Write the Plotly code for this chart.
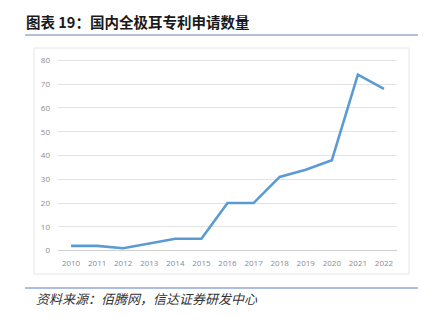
import plotly.graph_objects as go

years = ["2010", "2011", "2012", "2013", "2014", "2015", "2016",
         "2017", "2018", "2019", "2020", "2021", "2022"]
patents = [2, 2, 1, 3, 5, 5, 20, 20, 31, 34, 38, 74, 68]
y_ticks = [0, 10, 20, 30, 40, 50, 60, 70, 80]

title_text = "图表 19：国内全极耳专利申请数量"
source_text = "资料来源：佰腾网，信达证券研发中心"

fig = go.Figure()
fig.add_trace(go.Scatter(
    x=years, y=patents, mode="lines",
    line=dict(color="#5b9bd5", width=2.6),
    hoverinfo="skip",
))

W, H = 430, 322
ml, mr, mt, mb = 58, 33, 58, 69

fig.update_layout(
    width=W, height=H,
    margin=dict(l=ml, r=mr, t=mt, b=mb),
    paper_bgcolor="white", plot_bgcolor="white",
    showlegend=False,
    font=dict(family="Open Sans, Noto Sans CJK SC", color="#8c8c8c", size=8),
    xaxis=dict(
        type="category", range=[-0.5, len(years) - 0.5],
        showgrid=False, zeroline=False,
        showline=False, ticks="", ticklabelstandoff=4,
        tickfont=dict(size=8, color="#8c8c8c"),
        fixedrange=True,
    ),
    yaxis=dict(
        range=[-1, 81], tickvals=y_ticks, showgrid=True,
        gridcolor="#e3e3e3", gridwidth=1, zeroline=True,
        zerolinecolor="#d0d0d0", zerolinewidth=1, showline=False,
        ticks="", ticklabelstandoff=7,
        tickfont=dict(size=8, color="#8c8c8c"),
        fixedrange=True,
    ),
    shapes=[
        dict(type="rect", xref="paper", yref="paper",
             x0=-(ml - 34) / (W - ml - mr), x1=1 + (409 - (W - mr)) / (W - ml - mr),
             y0=-(274 - (H - mb)) / (H - mt - mb), y1=1 + (mt - 48) / (H - mt - mb),
             line=dict(color="#e6e6e6", width=1), layer="below"),
        dict(type="line", xref="paper", yref="paper",
             x0=-(ml - 25) / (W - ml - mr), x1=1 + (418 - (W - mr)) / (W - ml - mr),
             y0=1 + (mt - 35) / (H - mt - mb), y1=1 + (mt - 35) / (H - mt - mb),
             line=dict(color="#9aabc9", width=1.5)),
        dict(type="line", xref="paper", yref="paper",
             x0=-(ml - 25) / (W - ml - mr), x1=1 + (418 - (W - mr)) / (W - ml - mr),
             y0=-(288 - (H - mb)) / (H - mt - mb), y1=-(288 - (H - mb)) / (H - mt - mb),
             line=dict(color="#5a7fc0", width=1.2)),
    ],
    annotations=[
        dict(text=title_text, xref="paper", yref="paper",
             x=-(ml - 24) / (W - ml - mr), y=1 + (mt - 21) / (H - mt - mb),
             xanchor="left", yanchor="middle", showarrow=False,
             font=dict(family="Noto Sans CJK SC", size=14.5, color="#1a1a1a", weight="bold")),
        dict(text="<i>" + source_text + "</i>", xref="paper", yref="paper",
             x=-(ml - 34) / (W - ml - mr), y=-(298 - (H - mb)) / (H - mt - mb),
             xanchor="left", yanchor="middle", showarrow=False,
             font=dict(family="Noto Sans CJK SC", size=13, color="#333333")),
    ],
)

fig.write_html("out.html")
